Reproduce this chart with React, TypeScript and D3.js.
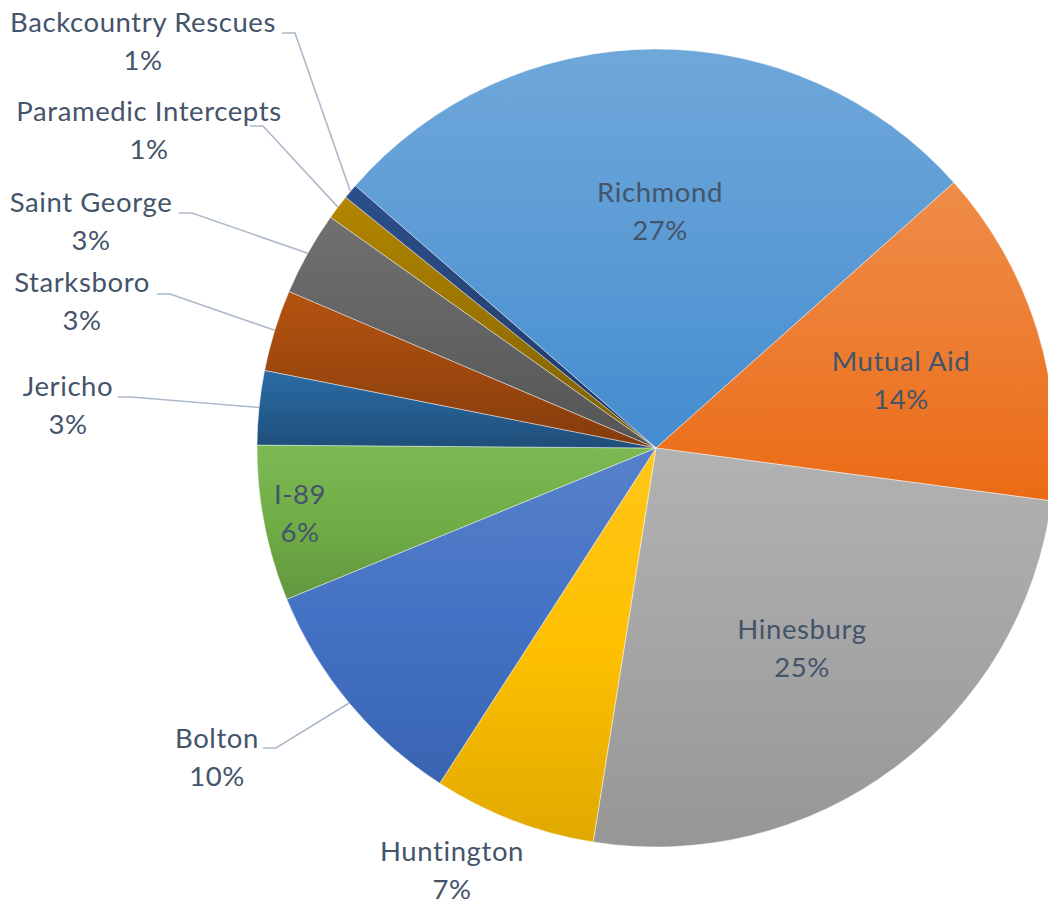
import React from "react";
import * as d3 from "d3";

// Call volume share by district / call type (percent of all calls)
const categories = [
  "Richmond",
  "Mutual Aid",
  "Hinesburg",
  "Huntington",
  "Bolton",
  "I-89",
  "Jericho",
  "Starksboro",
  "Saint George",
  "Paramedic Intercepts",
  "Backcountry Rescues",
];
const shares = [27.0, 13.7, 25.4, 6.6, 9.7, 6.3, 3.0, 3.3, 3.4, 1.0, 0.6];
const palette = [
  "#5B9BD5",
  "#ED7D31",
  "#A5A5A5",
  "#FFC000",
  "#4472C4",
  "#70AD47",
  "#255E91",
  "#9E480E",
  "#636363",
  "#997300",
  "#264478",
];

// Label placement: center x and first-line baseline; outside labels carry a leader start.
type LabelSpot = { x: number; y: number; leader?: [number, number] };
const labelSpots: Record<string, LabelSpot> = {
  Richmond: { x: 660, y: 202 },
  "Mutual Aid": { x: 901, y: 371 },
  Hinesburg: { x: 802, y: 639 },
  "I-89": { x: 300, y: 504 },
  Huntington: { x: 452, y: 861 },
  Bolton: { x: 217, y: 748, leader: [263, 748] },
  Jericho: { x: 68, y: 396, leader: [118, 397] },
  Starksboro: { x: 82, y: 292, leader: [157, 294] },
  "Saint George": { x: 91, y: 212, leader: [179, 213] },
  "Paramedic Intercepts": { x: 149, y: 121, leader: [250, 126] },
  "Backcountry Rescues": { x: 143, y: 32, leader: [282, 33] },
};

const W = 1048;
const H = 907;
const CX = 656;
const CY = 448;
const R = 399;
const START = (-48.9 * Math.PI) / 180;
const FONT = "Lato, 'Open Sans', sans-serif";
const TEXT = "#44546A";
const LINE_GAP = 38;

function shade(base: string, dl: number) {
  const c = d3.hsl(base);
  c.l = Math.max(0, Math.min(1, c.l + dl));
  return c.formatHex();
}

export default function App() {
  const total = d3.sum(shares);
  const rows = categories.map((name, i) => ({ name, value: shares[i], color: palette[i] }));
  const pie = d3
    .pie<(typeof rows)[number]>()
    .sort(null)
    .value((d) => d.value)
    .startAngle(START)
    .endAngle(START + 2 * Math.PI);
  const arcs = pie(rows);
  const arcGen = d3.arc<d3.PieArcDatum<(typeof rows)[number]>>().innerRadius(0).outerRadius(R);
  const pct = (v: number) => `${Math.round((v / total) * 100)}%`;

  return (
    <svg
      width={W}
      height={H}
      style={{ position: "absolute", left: 0, top: 0, background: "#fff" }}
    >
      <defs>
        {arcs.map((a, i) => (
          <linearGradient key={i} id={`slice-grad-${i}`} x1="0" y1="0" x2="0" y2="1">
            <stop offset="0" stopColor={shade(a.data.color, 0.05)} />
            <stop offset="0.5" stopColor={a.data.color} />
            <stop offset="1" stopColor={shade(a.data.color, -0.06)} />
          </linearGradient>
        ))}
      </defs>
      <g transform={`translate(${CX},${CY})`}>
        {arcs.map((a, i) => (
          <path
            key={a.data.name}
            d={arcGen(a) || ""}
            fill={`url(#slice-grad-${i})`}
            stroke="#ffffff"
            strokeOpacity={0.55}
            strokeWidth={0.8}
          />
        ))}
      </g>
      {arcs.map((a) => {
        const spot = labelSpots[a.data.name];
        if (!spot || !spot.leader) return null;
        const mid = (a.startAngle + a.endAngle) / 2;
        const ex = CX + R * Math.sin(mid);
        const ey = CY - R * Math.cos(mid);
        const [sx, sy] = spot.leader;
        const pts: [number, number][] = [
          [sx, sy],
          [sx + 13, sy],
          [ex, ey],
        ];
        return (
          <path
            key={`leader-${a.data.name}`}
            d={d3.line()(pts) || ""}
            fill="none"
            stroke="#ADB9CA"
            strokeWidth={1.6}
          />
        );
      })}
      {arcs.map((a) => {
        const spot = labelSpots[a.data.name];
        return (
          <text
            key={`label-${a.data.name}`}
            x={spot.x}
            y={spot.y}
            textAnchor="middle"
            fontFamily={FONT}
            fontSize={27.5}
            letterSpacing={0.6}
            fill={TEXT}
          >
            <tspan x={spot.x} y={spot.y}>
              {a.data.name}
            </tspan>
            <tspan x={spot.x} y={spot.y + LINE_GAP}>
              {pct(a.data.value)}
            </tspan>
          </text>
        );
      })}
    </svg>
  );
}
